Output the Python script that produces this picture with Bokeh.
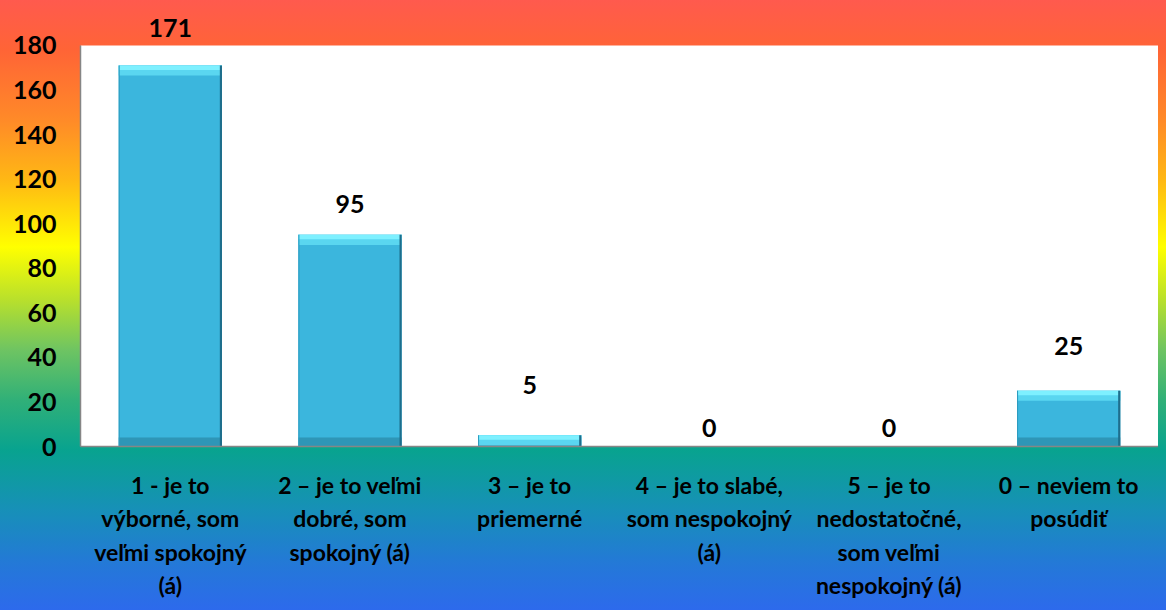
import numpy as np
from bokeh.plotting import figure
from bokeh.models import (ColumnDataSource, FixedTicker, LabelSet, Range1d,
                          GlobalInlineStyleSheet, BoxAnnotation)
from bokeh.core.properties import value
from bokeh.transform import dodge
from bokeh.embed import file_html
from bokeh.resources import INLINE

# ---- data ----
categories = [
    "1 - je to\nvýborné, som\nveľmi spokojný\n(á)",
    "2 – je to veľmi\ndobré, som\nspokojný (á)",
    "3 – je to\npriemerné",
    "4 – je to slabé,\nsom nespokojný\n(á)",
    "5 – je to\nnedostatočné,\nsom veľmi\nnespokojný (á)",
    "0 – neviem to\nposúdiť",
]
counts = [171, 95, 5, 0, 0, 25]
y_ticks = [0, 20, 40, 60, 80, 100, 120, 140, 160, 180]

# label lift above bar top (screen px, styling)
label_lift = [38, 31, 50, 19, 19, 45]

FONT = "Lato"
BAR_W = 0.575
Y_MAX = 180
Y_VIEW = 196.6   # headroom above the white plot area (for the "171" label)

v = np.array(counts, dtype=float)
src = ColumnDataSource(dict(
    cat=categories,
    val=v,
    low_top=np.minimum(v, 4.0),
    hi_bottom=np.maximum(v - 4.5, 0),
    hi2_bottom=np.maximum(v - 2.0, 0),
    label=[str(c) for c in counts],
    lift=label_lift,
))

css = GlobalInlineStyleSheet(css="""
html { min-height: 100%; height: 100%;
  background: linear-gradient(to bottom,
    #FF5A4E 0px, #FF6436 50px, #FF8A28 120px, #FFB814 180px,
    #FFFF00 247px, #B8E02C 300px, #6EC462 350px, #30B078 400px,
    #08A38F 450px, #1790B8 510px, #2478D8 565px, #2D6AEC 610px);
}
body { background: transparent; margin: 8px; }
""")

p = figure(x_range=categories, y_range=Range1d(0, Y_VIEW),
           width=1150, height=594, output_backend="svg",
           toolbar_location=None, min_border_left=72, min_border_top=0,
           min_border_right=0, min_border_bottom=0)
p.stylesheets = [css]
p.border_fill_color = None
p.border_fill_alpha = 0
p.background_fill_color = None
p.background_fill_alpha = 0
p.outline_line_color = None

# white plot area 0..180
p.add_layout(BoxAnnotation(bottom=0, top=Y_MAX, fill_color="white",
                           fill_alpha=1, line_color=None, level="underlay"))

# bars
p.vbar(x="cat", top="val", width=BAR_W, source=src,
       fill_color="#3BB6DD", line_color=None)
p.vbar(x="cat", bottom=0, top="low_top", width=BAR_W, source=src,
       fill_color="#26809E", fill_alpha=0.6, line_color=None)
p.vbar(x="cat", bottom="hi_bottom", top="val", width=BAR_W, source=src,
       fill_color="#5AD6F0", line_color=None)
p.vbar(x="cat", bottom="hi2_bottom", top="val", width=BAR_W, source=src,
       fill_color="#7EF0FF", line_color=None)
p.vbar(x=dodge("cat", BAR_W / 2 - 0.006, range=p.x_range), top="val",
       width=0.012, source=src, fill_color="#1E6E8C", line_color=None)
p.vbar(x=dodge("cat", -BAR_W / 2 + 0.003, range=p.x_range), top="val",
       width=0.006, source=src, fill_color="#2C9CC0", line_color=None)

labels = LabelSet(x="cat", y="val", text="label", y_offset="lift", source=src,
                  text_align="center", text_baseline="middle",
                  text_font=value(FONT), text_font_style="bold",
                  text_font_size="25px", text_color="black")
p.add_layout(labels)

# axes
for ax in (p.xaxis, p.yaxis):
    ax.axis_line_color = "#868686"
    ax.axis_line_width = 1.5
    ax.major_tick_line_color = None
    ax.minor_tick_line_color = None
    ax.major_label_text_font = FONT
    ax.major_label_text_font_style = "bold"
    ax.major_label_text_color = "black"

p.yaxis.major_label_text_font_size = "25px"
p.xaxis.major_label_text_font_size = "23px"
p.yaxis.ticker = FixedTicker(ticks=y_ticks)
p.yaxis.bounds = (0, Y_MAX)
p.yaxis.major_label_standoff = 18
p.xaxis.major_label_standoff = 18
p.xaxis.major_label_text_line_height = 1.2

p.xgrid.grid_line_color = None
p.ygrid.ticker = FixedTicker(ticks=y_ticks[1:-1])
p.ygrid.grid_line_color = "#8A8A8A"
p.ygrid.grid_line_width = 1.5

open("out.html", "w").write(file_html(p, INLINE))
